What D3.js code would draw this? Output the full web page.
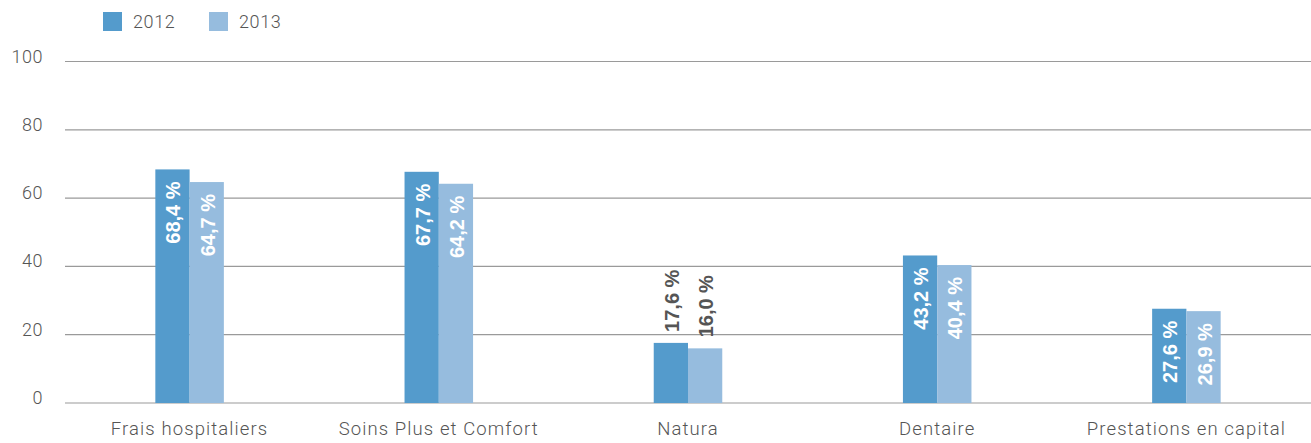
<!DOCTYPE html>
<html><head><meta charset="utf-8">
<script src="https://cdn.jsdelivr.net/npm/d3@7"></script>
<style>body{margin:0;background:#fff;}svg{display:block;font-family:Roboto,"Liberation Sans",sans-serif;}</style>
</head><body><svg id="c" width="1311" height="443"></svg>
<script>
const categories = ["Frais hospitaliers","Soins Plus et Comfort","Natura","Dentaire","Prestations en capital"];
const seriesNames = ["2012","2013"];
const values2012 = [68.4,67.7,17.6,43.2,27.6];
const values2013 = [64.7,64.2,16.0,40.4,26.9];
const yTicks = [0,20,40,60,80,100];
const colors = ["#549bcc","#96bcde"];

const svg = d3.select("#c");
const x0 = 65, x1 = 1311, yTop = 61.5, yBot = 403;
const x = d3.scaleBand().domain(categories).range([x0,x1]);
const y = d3.scaleLinear().domain([0,100]).range([yBot,yTop]);
const groupW = x.bandwidth()*0.275;
const xs = d3.scaleBand().domain(seriesNames).range([-groupW/2,groupW/2]);
const txtCol = "#555555";

// gridlines
svg.append("g").selectAll("line").data(yTicks).join("line")
  .attr("x1",x0).attr("x2",x1).attr("y1",d=>y(d)).attr("y2",d=>y(d))
  .attr("stroke","#9a9a9a").attr("stroke-width",1.2);
svg.append("g").selectAll("text").data(yTicks).join("text")
  .attr("x",43).attr("y",d=>y(d)+1).attr("text-anchor","end")
  .attr("font-size",18).attr("font-weight",300).attr("letter-spacing",0.5)
  .attr("fill",txtCol).text(d=>d);

// category labels
svg.append("g").selectAll("text").data(categories).join("text")
  .attr("x",d=>x(d)+x.bandwidth()/2).attr("y",435).attr("text-anchor","middle")
  .attr("font-size",18.5).attr("font-weight",300).attr("letter-spacing",1.1)
  .attr("fill",txtCol).text(d=>d);

const data = [];
categories.forEach((c,i)=>{
  data.push({c, s:"2012", v:values2012[i], col:colors[0]});
  data.push({c, s:"2013", v:values2013[i], col:colors[1]});
});

const bars = svg.append("g");
bars.selectAll("rect").data(data).join("rect")
  .attr("x",d=>x(d.c)+x.bandwidth()/2+xs(d.s))
  .attr("width",xs.bandwidth())
  .attr("y",d=>y(d.v)).attr("height",d=>yBot-y(d.v))
  .attr("fill",d=>d.col);

const fmt = v => v.toFixed(1).replace(".",",")+" %";
bars.selectAll("text").data(data).join("text")
  .each(function(d){
    const cx = x(d.c)+x.bandwidth()/2+xs(d.s)+xs.bandwidth()/2+1;
    const top = y(d.v);
    const inside = (yBot-top) > 80;
    d3.select(this)
      .attr("transform",`translate(${cx},${inside?top+12:top-11}) rotate(-90)`)
      .attr("text-anchor",inside?"end":"start")
      .attr("dominant-baseline","central")
      .style("font-family","'Liberation Sans',Arial,sans-serif")
      .attr("font-size",20).attr("font-weight","bold")
      .attr("fill",inside?"#ffffff":"#555555")
      .text(fmt(d.v));
  });

// legend
const lg = svg.append("g");
const lx = [103,209];
seriesNames.forEach((s,i)=>{
  lg.append("rect").attr("x",lx[i]).attr("y",12).attr("width",19).attr("height",19).attr("fill",colors[i]);
  lg.append("text").attr("x",lx[i]+30).attr("y",28).attr("font-size",18).attr("font-weight",300)
    .attr("letter-spacing",0.6).attr("fill",txtCol).text(s);
});
</script></body></html>
